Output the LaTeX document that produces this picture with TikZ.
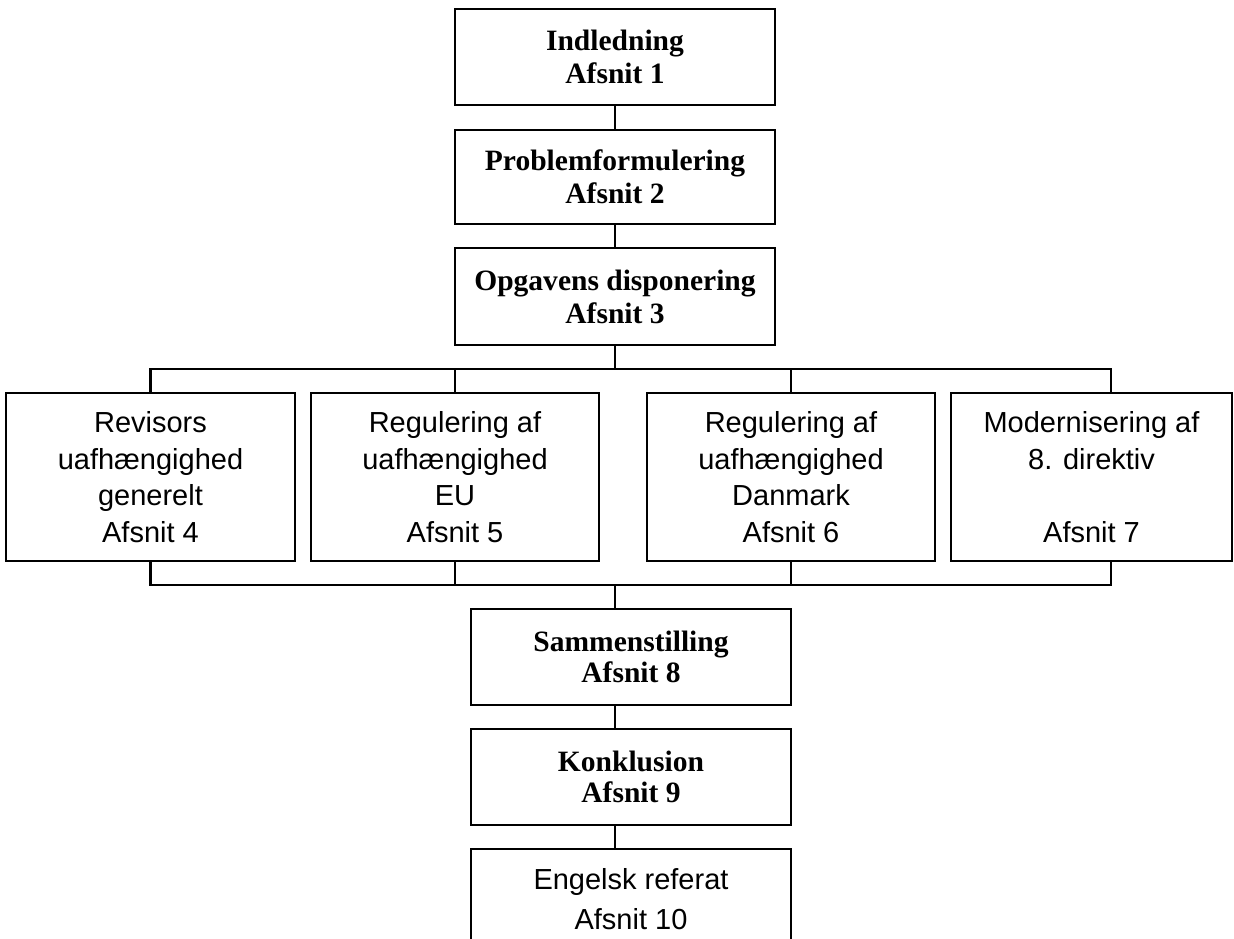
\documentclass[tikz,border=0pt]{standalone}
\usepackage{fontspec}
\setmainfont{Liberation Serif}
\newfontfamily\boxsans{Liberation Sans}

\begin{document}
\begin{tikzpicture}[x=0.02cm, y=-0.02cm, line width=1.2pt,
	mainbox/.style={draw, align=center, minimum width=6.4cm, inner sep=0pt,
		font=\bfseries\fontsize{16.8}{18.8}\selectfont},
	subbox/.style={draw, align=center, minimum height=3.36cm, inner sep=0pt,
		font=\boxsans\fontsize{16.5}{20.8}\selectfont}]

	\useasboundingbox (0,0) rectangle (1234,939);
	\clip (0,0) rectangle (1234,939);

	% the chain at the top
	\node[mainbox, minimum height=1.92cm] (ind) at (615,57) {Indledning\\Afsnit 1};
	\node[mainbox, minimum height=1.88cm] (prob) at (615,177) {Problemformulering\\Afsnit 2};
	\node[mainbox, minimum height=1.94cm] (opg) at (615,296.5) {Opgavens disponering\\Afsnit 3};

	% the four parts side by side
	\node[subbox, minimum width=5.78cm] (rev) at (150.5,477) {Revisors\\uafhængighed\\generelt\\Afsnit 4};
	\node[subbox, minimum width=5.76cm] (eu) at (455,477) {Regulering af\\uafhængighed\\EU\\Afsnit 5};
	\node[subbox, minimum width=5.76cm] (dk) at (791,477) {Regulering af\\uafhængighed\\Danmark\\Afsnit 6};
	\node[subbox, minimum width=5.62cm] (mod) at (1091.5,477) {Modernisering af\\8. direktiv\\\mbox{}\\Afsnit 7};

	% the chain at the bottom
	\node[mainbox, minimum height=1.92cm] (sam) at (631,657) {Sammenstilling\\[-1.5pt]Afsnit 8};
	\node[mainbox, minimum height=1.92cm] (kon) at (631,777) {Konklusion\\[-1.5pt]Afsnit 9};
	\node[subbox, minimum width=6.4cm, minimum height=2cm] (eng) at (631,899) {Engelsk referat\\[2pt]Afsnit 10};

	\coordinate (split) at (615,369);
	\coordinate (join) at (615,585);

	\draw (ind) -- (prob);
	\draw (prob) -- (opg);
	\draw (opg) -- (split);
	\draw (rev.north) |- (split) -| ([xshift=0.39cm]mod.north);
	\draw (eu.north) -- (eu.north |- split);
	\draw (dk.north) -- (dk.north |- split);

	\draw (rev.south) |- (join) -| ([xshift=0.39cm]mod.south);
	\draw (eu.south) -- (eu.south |- join);
	\draw (dk.south) -- (dk.south |- join);
	\draw (join) -- (join |- sam.north);
	\draw (sam.south -| join) -- (kon.north -| join);
	\draw (kon.south -| join) -- (eng.north -| join);

\end{tikzpicture}
\end{document}
